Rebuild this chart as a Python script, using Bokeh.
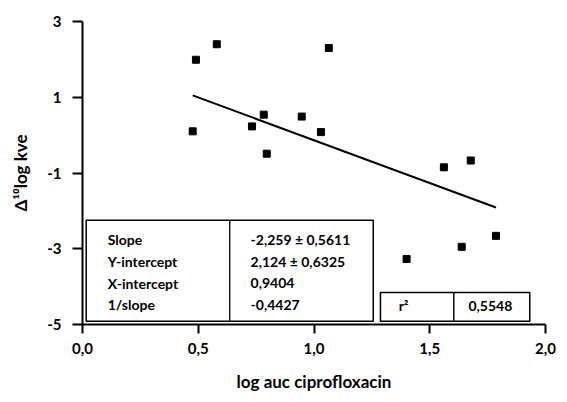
from bokeh.plotting import figure
from bokeh.models import FixedTicker, Label, BoxAnnotation
from bokeh.embed import file_html
from bokeh.resources import INLINE
import numpy as np

# Data
x_vals = [0.476, 0.490, 0.580, 1.064, 0.783, 0.732, 0.796, 0.947, 1.030, 1.561, 1.677, 1.400, 1.638, 1.786]
y_vals = [0.10, 1.99, 2.40, 2.30, 0.54, 0.23, -0.49, 0.49, 0.08, -0.85, -0.67, -3.27, -2.95, -2.66]
slope = -2.259
intercept = 2.124
table_labels = ["Slope", "Y-intercept", "X-intercept", "1/slope"]
table_values = ["-2,259 \u00b1 0,5611", "2,124 \u00b1 0,6325", "0,9404", "-0,4427"]
r2_label = "r\u00b2"
r2_value = "0,5548"
x_ticks = [0.0, 0.5, 1.0, 1.5, 2.0]
x_tick_labels = ["0,0", "0,5", "1,0", "1,5", "2,0"]
y_ticks = [3, 1, -1, -3, -5]
y_tick_labels = ["3", "1", "-1", "-3", "-5"]

FONT = "Lato"

p = figure(width=559, height=394, x_range=(0, 2), y_range=(-5, 3),
           output_backend="svg", toolbar_location=None,
           min_border_left=82, min_border_right=14, min_border_top=21, min_border_bottom=63)
p.outline_line_color = None
p.grid.visible = False
p.background_fill_color = "white"

for ax in (p.xaxis[0], p.yaxis[0]):
    ax.axis_line_width = 2
    ax.axis_line_color = "black"
    ax.major_tick_line_width = 2
    ax.major_tick_line_color = "black"
    ax.minor_tick_line_color = None
    ax.major_tick_in = 0
    ax.major_label_text_font = FONT
    ax.major_label_text_font_style = "bold"
    ax.major_label_text_font_size = "15px"
    ax.axis_label_text_font = FONT
    ax.axis_label_text_font_style = "bold"
    ax.axis_label_text_font_size = "17px"
    ax.major_label_text_color = "black"
    ax.axis_label_text_color = "black"

p.xaxis.ticker = FixedTicker(ticks=x_ticks)
p.xaxis.major_label_overrides = {t: l for t, l in zip(x_ticks, x_tick_labels)}
p.xaxis.major_tick_out = 9
p.xaxis.major_label_standoff = 9
p.xaxis.axis_label = "log auc ciprofloxacin"
p.xaxis.axis_label_standoff = 14

p.yaxis.ticker = FixedTicker(ticks=y_ticks)
p.yaxis.major_label_overrides = {t: l for t, l in zip(y_ticks, y_tick_labels)}
p.yaxis.major_tick_out = 10
p.yaxis.major_label_standoff = 11
p.yaxis.axis_label = "\u0394\u00b9\u2070log kve"
p.yaxis.axis_label_standoff = 13

# regression line over the data range
xl = np.array([min(x_vals), max(x_vals)])
p.line(xl, intercept + slope * xl, line_color="black", line_width=2)
p.scatter(x_vals, y_vals, marker="square", size=7, color="black")

# table boxes (layout positions)
box_kw = dict(fill_color="white", fill_alpha=1, line_color="black", line_alpha=1, line_width=1.5)
div_kw = dict(fill_alpha=0, line_color="black", line_alpha=1, line_width=1)
p.add_layout(BoxAnnotation(left=0.016, right=1.256, top=-2.246, bottom=-4.915, **box_kw))
p.add_layout(BoxAnnotation(left=0.636, right=0.636, top=-2.246, bottom=-4.915, **div_kw))
p.add_layout(BoxAnnotation(left=1.287, right=1.932, top=-4.156, bottom=-4.915, **box_kw))
p.add_layout(BoxAnnotation(left=1.604, right=1.604, top=-4.156, bottom=-4.915, **div_kw))

txt_kw = dict(text_font=FONT, text_font_style="bold", text_font_size="14px",
              text_color="black", text_baseline="middle")
row_y = [-2.763, -3.341, -3.916, -4.484]
for lab, val, yy in zip(table_labels, table_values, row_y):
    p.add_layout(Label(x=0.109, y=yy, text=lab, text_align="left", **txt_kw))
    p.add_layout(Label(x=0.726, y=yy, text=val, text_align="left", **txt_kw))
p.add_layout(Label(x=1.387, y=-4.51, text=r2_label, text_align="center", **txt_kw))
p.add_layout(Label(x=1.762, y=-4.51, text=r2_value, text_align="center", **txt_kw))

open("out.html", "w").write(file_html(p, INLINE))
